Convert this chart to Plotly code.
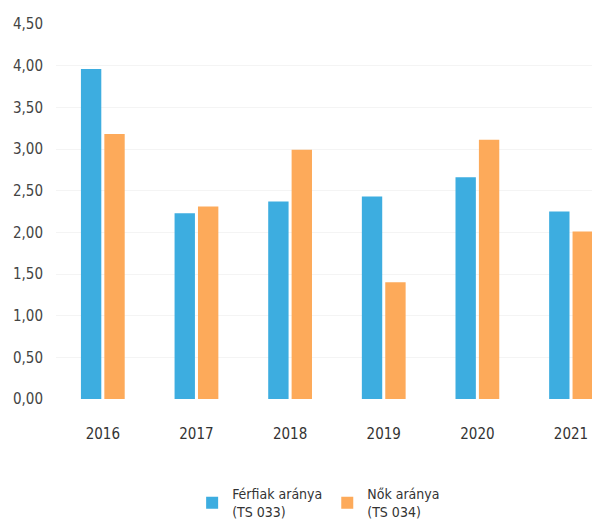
import plotly.graph_objects as go

years = ["2016", "2017", "2018", "2019", "2020", "2021"]
ferfiak = [3.96, 2.23, 2.37, 2.43, 2.66, 2.25]
nok = [3.18, 2.31, 2.99, 1.40, 3.11, 2.01]
y_ticks = [0, 0.5, 1, 1.5, 2, 2.5, 3, 3.5, 4, 4.5]

FONT = "DejaVu Sans Condensed, sans-serif"

fig = go.Figure()
fig.add_trace(go.Bar(x=years, y=ferfiak, name="Férfiak aránya<br>(TS 033)",
                     marker=dict(color="#3DADE0", line=dict(width=0))))
fig.add_trace(go.Bar(x=years, y=nok, name="Nők aránya<br>(TS 034)",
                     marker=dict(color="#FDAA5A", line=dict(width=0))))

fig.update_layout(
    width=592, height=528,
    margin=dict(l=56, r=0, t=24, b=128),
    paper_bgcolor="white", plot_bgcolor="white",
    separators=", ",
    barmode="group", bargap=0.5, bargroupgap=0.13,
    font=dict(family=FONT, color="#333333"),
    showlegend=True,
    legend=dict(orientation="h", x=0.49, xanchor="center", y=-0.21, yanchor="top",
                font=dict(size=14, color="#333333"), traceorder="normal",
                itemwidth=30, tracegroupgap=0),
)
fig.update_xaxes(type="category", range=[-0.5, 5.224], showline=False, showgrid=False,
                 ticks="", tickfont=dict(size=15, color="#333333"), ticklabelstandoff=24)
fig.update_yaxes(range=[0, 4.5], tickvals=y_ticks, tickformat=".2f", showline=False,
                 showgrid=True, gridcolor="#f4f4f4", zeroline=False, ticks="",
                 tickfont=dict(size=15, color="#444444"), ticklabelstandoff=12)

fig.write_html("out.html", config={"displayModeBar": False},
               post_script="document.body.style.margin='0';document.body.style.overflow='hidden';")
